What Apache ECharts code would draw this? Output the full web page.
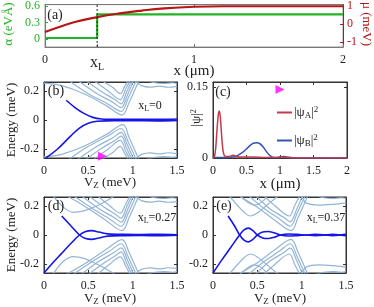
<!DOCTYPE html>
<html><head><meta charset="utf-8">
<script src="https://cdn.jsdelivr.net/npm/echarts@6/dist/echarts.min.js"></script>
<style>html,body{margin:0;padding:0;background:#fff}#c{width:374px;height:307px}</style>
</head><body><div id="c"></div>
<script>
// ---------------- DATA ----------------
// panel (a)
const xL = 0.35;
const alphaX = [0, 0.35, 0.35, 2];
const alphaY = [0.02, 0.02, 0.45, 0.45];
const muX = [0, 0.1, 0.2, 0.35, 0.5, 0.65, 0.8, 1.0, 1.2, 1.5, 2.0];
const muY = [-0.43, -0.14, 0.12, 0.39, 0.6, 0.76, 0.88, 0.97, 1.0, 1.0, 1.0];
const aXTicks = [0, 0.35, 1, 2];
const aAlphaTicks = [0, 0.3, 0.6];
const aMuTicks = [-1, 0, 1];
// panel (c)
const psiAX = [0, 0.02, 0.04, 0.06, 0.08, 0.095, 0.11, 0.13, 0.15, 0.17, 0.2, 0.23, 0.26, 0.28, 0.3, 0.32, 0.35, 0.4, 0.5, 0.6, 0.8, 0.95, 1.02, 1.1, 1.3, 1.5, 2.0];
const psiA  = [0, 0.002, 0.02, 0.06, 0.092, 0.099, 0.085, 0.045, 0.015, 0.005, 0.003, 0.003, 0.004, 0.005, 0.006, 0.005, 0.003, 0.002, 0.002, 0.002, 0.001, 0.001, 0.002, 0.001, 0, 0, 0];
const psiBX = [0, 0.1, 0.2, 0.3, 0.35, 0.4, 0.45, 0.5, 0.55, 0.6, 0.65, 0.7, 0.75, 0.8, 0.85, 0.9, 0.95, 1.0, 1.05, 1.1, 1.2, 1.4, 2.0];
const psiB  = [0.001, 0.001, 0.001, 0.002, 0.004, 0.008, 0.013, 0.019, 0.026, 0.031, 0.032, 0.03, 0.023, 0.013, 0.005, 0.001, 0.001, 0.002, 0.003, 0.002, 0.0005, 0, 0];
const cXTicks = [0, 0.5, 1, 1.5, 2];
const cYTicks = [0, 0.15];
const markerB = [[0.66, -0.248]];
const markerC = [[1.0, 0.144]];
// panels (b),(d),(e)
const vzTicks = [0, 0.5, 1, 1.5];
const eTicks = [-0.2, 0, 0.2];

const bulkB_up = [
  [[0,0.252],[0.2,0.235],[0.45,0.18],[0.7,0.1],[0.88,0.034],[0.96,0.12],[1.07,0.27]],
  [[0.28,0.27],[0.5,0.18],[0.72,0.11],[0.87,0.058],[0.95,0.15],[1.04,0.27]],
  [[0.38,0.27],[0.6,0.18],[0.78,0.12],[0.87,0.085],[0.94,0.17],[1.01,0.27]],
  [[0.47,0.27],[0.66,0.19],[0.8,0.14],[0.87,0.11],[0.93,0.19],[0.99,0.27]],
  [[0.56,0.27],[0.72,0.2],[0.86,0.14],[0.92,0.21],[0.97,0.27]],
  [[0.65,0.27],[0.78,0.22],[0.86,0.18],[0.91,0.23],[0.95,0.27]],
  [[1.02,0.27],[1.1,0.235],[1.2,0.225],[1.3,0.232],[1.4,0.224],[1.5,0.23]],
  [[1.15,0.27],[1.25,0.255],[1.35,0.25],[1.45,0.255],[1.5,0.25]]
];
const bulkB_dn = [
  [[0,-0.252],[0.2,-0.235],[0.45,-0.18],[0.7,-0.1],[0.89,-0.032],[0.96,-0.12],[1.07,-0.27]],
  [[0.28,-0.27],[0.5,-0.18],[0.72,-0.11],[0.87,-0.058],[0.95,-0.15],[1.04,-0.27]],
  [[0.38,-0.27],[0.6,-0.18],[0.78,-0.12],[0.87,-0.085],[0.94,-0.17],[1.01,-0.27]],
  [[0.47,-0.27],[0.66,-0.19],[0.8,-0.14],[0.87,-0.11],[0.93,-0.19],[0.99,-0.27]],
  [[0.56,-0.27],[0.72,-0.2],[0.86,-0.14],[0.92,-0.21],[0.97,-0.27]],
  [[0.65,-0.27],[0.78,-0.22],[0.86,-0.18],[0.91,-0.23],[0.95,-0.27]],
  [[1.02,-0.27],[1.1,-0.235],[1.2,-0.225],[1.3,-0.232],[1.4,-0.224],[1.5,-0.23]],
  [[1.15,-0.27],[1.25,-0.255],[1.35,-0.25],[1.45,-0.255],[1.5,-0.25]]
];
const mzmB = [
  [[0.25,0.135],[0.35,0.085],[0.45,0.045],[0.55,0.018],[0.65,0.007],[0.8,0.004],[1.0,0.004],[1.2,0.005],[1.35,0.004],[1.5,0.007]],
  [[0.02,-0.26],[0.15,-0.2],[0.3,-0.11],[0.4,-0.055],[0.5,-0.022],[0.6,-0.009],[0.8,-0.004],[1.0,-0.004],[1.3,-0.006],[1.5,-0.003]]
];

const bulkD_up = [
  [[0.1,0.27],[0.22,0.19],[0.33,0.155],[0.45,0.165],[0.6,0.2],[0.75,0.25],[0.8,0.27]],
  [[0.25,0.27],[0.45,0.2],[0.7,0.1],[0.88,0.03],[0.96,0.12],[1.07,0.27]],
  [[0.33,0.27],[0.55,0.18],[0.74,0.11],[0.87,0.06],[0.95,0.15],[1.04,0.27]],
  [[0.42,0.27],[0.62,0.18],[0.79,0.12],[0.87,0.088],[0.94,0.17],[1.01,0.27]],
  [[0.5,0.27],[0.68,0.19],[0.81,0.14],[0.87,0.115],[0.93,0.19],[0.99,0.27]],
  [[0.6,0.27],[0.74,0.2],[0.86,0.15],[0.92,0.21],[0.97,0.27]],
  [[1.02,0.27],[1.1,0.235],[1.2,0.225],[1.3,0.232],[1.4,0.224],[1.5,0.228]],
  [[1.15,0.27],[1.25,0.255],[1.35,0.25],[1.45,0.255],[1.5,0.25]]
];
const bulkD_dn = [
  [[0.1,-0.27],[0.22,-0.18],[0.33,-0.148],[0.45,-0.16],[0.6,-0.2],[0.75,-0.25],[0.8,-0.27]],
  [[0.25,-0.27],[0.45,-0.2],[0.7,-0.1],[0.88,-0.032],[0.96,-0.12],[1.07,-0.27]],
  [[0.33,-0.27],[0.55,-0.18],[0.74,-0.11],[0.87,-0.06],[0.95,-0.15],[1.04,-0.27]],
  [[0.42,-0.27],[0.62,-0.18],[0.79,-0.12],[0.87,-0.088],[0.94,-0.17],[1.01,-0.27]],
  [[0.5,-0.27],[0.68,-0.19],[0.81,-0.14],[0.87,-0.115],[0.93,-0.19],[0.99,-0.27]],
  [[0.6,-0.27],[0.74,-0.2],[0.86,-0.15],[0.92,-0.21],[0.97,-0.27]],
  [[1.02,-0.27],[1.1,-0.235],[1.2,-0.225],[1.3,-0.232],[1.4,-0.224],[1.5,-0.228]],
  [[1.15,-0.27],[1.25,-0.255],[1.35,-0.25],[1.45,-0.255],[1.5,-0.25]]
];
const mzmD = [
  [[0.2,0.13],[0.3,0.065],[0.4,0.0],[0.47,-0.024],[0.54,-0.03],[0.62,-0.02],[0.72,-0.008],[0.9,-0.004],[1.1,-0.003],[1.3,-0.005],[1.5,-0.002]],
  [[0.0,-0.26],[0.1,-0.19],[0.2,-0.125],[0.3,-0.06],[0.4,0.0],[0.47,0.024],[0.54,0.03],[0.62,0.02],[0.72,0.008],[0.9,0.004],[1.1,0.003],[1.3,0.005],[1.5,0.002]]
];

const bulkE_up = [
  [[0.18,0.27],[0.28,0.2],[0.36,0.15],[0.42,0.13],[0.5,0.15],[0.6,0.2],[0.7,0.25],[0.74,0.27]],
  [[0.3,0.27],[0.4,0.22],[0.47,0.205],[0.55,0.225],[0.62,0.27]],
  [[0.3,0.265],[0.5,0.19],[0.7,0.1],[0.88,0.03],[0.96,0.12],[1.07,0.27]],
  [[0.4,0.27],[0.58,0.18],[0.75,0.11],[0.87,0.06],[0.95,0.15],[1.04,0.27]],
  [[0.48,0.27],[0.64,0.18],[0.8,0.12],[0.87,0.09],[0.94,0.17],[1.01,0.27]],
  [[0.57,0.27],[0.7,0.2],[0.86,0.13],[0.92,0.2],[0.98,0.27]],
  [[1.0,0.27],[1.05,0.22],[1.2,0.205],[1.35,0.21],[1.5,0.22]],
  [[1.15,0.27],[1.25,0.255],[1.35,0.25],[1.45,0.255],[1.5,0.25]]
];
const bulkE_dn = [
  [[0.18,-0.27],[0.28,-0.2],[0.36,-0.15],[0.42,-0.13],[0.5,-0.15],[0.6,-0.2],[0.7,-0.25],[0.74,-0.27]],
  [[0.3,-0.27],[0.4,-0.22],[0.47,-0.205],[0.55,-0.225],[0.62,-0.27]],
  [[0.3,-0.265],[0.5,-0.19],[0.7,-0.1],[0.88,-0.03],[0.96,-0.12],[1.07,-0.27]],
  [[0.4,-0.27],[0.58,-0.18],[0.75,-0.11],[0.87,-0.06],[0.95,-0.15],[1.04,-0.27]],
  [[0.48,-0.27],[0.64,-0.18],[0.8,-0.12],[0.87,-0.09],[0.94,-0.17],[1.01,-0.27]],
  [[0.57,-0.27],[0.7,-0.2],[0.86,-0.13],[0.92,-0.2],[0.98,-0.27]],
  [[1.0,-0.27],[1.05,-0.22],[1.2,-0.205],[1.35,-0.21],[1.5,-0.22]],
  [[1.15,-0.27],[1.25,-0.255],[1.35,-0.25],[1.45,-0.255],[1.5,-0.25]]
];
const mzmE = [
  [[0.17,0.13],[0.24,0.065],[0.3,0.0],[0.35,-0.035],[0.4,-0.047],[0.45,-0.03],[0.5,0.0],[0.56,0.02],[0.62,0.024],[0.69,0.015],[0.76,0.0],[0.85,-0.007],[0.95,-0.004],[1.05,0.0],[1.15,0.005],[1.25,0.002],[1.35,-0.004],[1.45,0.002],[1.5,0.004]],
  [[0.0,-0.26],[0.1,-0.17],[0.2,-0.085],[0.3,0.0],[0.35,0.035],[0.4,0.047],[0.45,0.03],[0.5,0.0],[0.56,-0.02],[0.62,-0.024],[0.69,-0.015],[0.76,0.0],[0.85,0.007],[0.95,0.004],[1.05,0.0],[1.15,-0.005],[1.25,-0.002],[1.35,0.004],[1.45,-0.002],[1.5,-0.004]]
];

// ---------------- STYLE / LAYOUT ----------------
const FONT = 'Liberation Serif';
const BULK = '#94b5d5';
const MZM = '#1515e8';
const GREEN = '#22b422';
const RED = '#b51616';
const zip = (xs, ys) => xs.map((x, i) => [x, ys[i]]);

const grids = [
  {left: 45, top: 4, width: 298, height: 43, show: true, borderColor: '#999', borderWidth: 1},
  {left: 44, top: 82, width: 133, height: 76, show: true, borderColor: '#333', borderWidth: 1},
  {left: 213, top: 82, width: 134, height: 76, show: true, borderColor: '#333', borderWidth: 1},
  {left: 44, top: 197, width: 133, height: 76, show: true, borderColor: '#333', borderWidth: 1},
  {left: 213, top: 197, width: 133, height: 76, show: true, borderColor: '#333', borderWidth: 1}
];

function ax(grid, pos, min, max, vals, showLabel, opts) {
  opts = opts || {};
  const col = opts.color || '#333';
  return {
    type: 'value', gridIndex: grid, position: pos, min, max,
    splitLine: {show: false},
    axisLine: {show: true, onZero: false, lineStyle: {color: opts.lineColor || col, width: 1}},
    axisTick: {show: true, inside: true, length: 3, customValues: vals, lineStyle: {color: col}},
    axisLabel: {show: showLabel, customValues: vals, margin: opts.margin || 5,
      formatter: opts.fmt || (v => String(v)),
      fontFamily: FONT, fontSize: 12, color: opts.labelColor || '#222', rich: opts.rich}
  };
}

const xAxes = [
  ax(0, 'bottom', 0, 2, aXTicks, true, {color: '#777', margin: 7,
     fmt: v => v === xL ? '{x|x}{s|L}' : String(v),
     rich: {x: {fontFamily: FONT, fontSize: 16, color: '#222'}, s: {fontFamily: FONT, fontSize: 10, color: '#222', padding: [8, 0, 0, 0], verticalAlign: 'bottom'}}}),
  ax(0, 'top', 0, 2, [1], false, {color: '#777'}),
  ax(1, 'bottom', 0, 1.5, vzTicks, true, {margin: 7}),
  ax(1, 'top', 0, 1.5, [0.5, 1], false),
  ax(2, 'bottom', 0, 2, cXTicks, true, {margin: 7}),
  ax(2, 'top', 0, 2, [0.5, 1, 1.5], false),
  ax(3, 'bottom', 0, 1.5, vzTicks, true, {margin: 7}),
  ax(3, 'top', 0, 1.5, [0.5, 1], false),
  ax(4, 'bottom', 0, 1.5, vzTicks, true, {margin: 7}),
  ax(4, 'top', 0, 1.5, [0.5, 1], false)
];
const yAxes = [
  ax(0, 'left', -0.143, 0.625, aAlphaTicks, true, {color: GREEN, labelColor: GREEN}),
  ax(0, 'right', -1.27, 1.09, aMuTicks, true, {color: RED, labelColor: RED, margin: 4}),
  ax(1, 'left', -0.26, 0.26, eTicks, true),
  ax(1, 'right', -0.26, 0.26, eTicks, false),
  ax(2, 'left', 0, 0.16, cYTicks, true),
  ax(2, 'right', 0, 0.16, cYTicks, false),
  ax(3, 'left', -0.26, 0.26, eTicks, true),
  ax(3, 'right', -0.26, 0.26, eTicks, false),
  ax(4, 'left', -0.26, 0.26, eTicks, true),
  ax(4, 'right', -0.26, 0.26, eTicks, false)
];

function lines(list, xi, yi, color, width, z) {
  return list.map(pts => ({type: 'line', xAxisIndex: xi, yAxisIndex: yi, data: pts, smooth: 0.35,
    showSymbol: false, silent: true, clip: true, z: z, lineStyle: {color: color, width: width}}));
}

const series = [
  {type: 'line', name: 'alpha', xAxisIndex: 0, yAxisIndex: 0, data: zip(alphaX, alphaY), showSymbol: false,
   lineStyle: {color: GREEN, width: 2.2}, z: 3},
  {type: 'line', name: 'mu', xAxisIndex: 0, yAxisIndex: 1, data: zip(muX, muY), smooth: true, showSymbol: false,
   lineStyle: {color: RED, width: 2.2}, z: 4},
  {type: 'line', xAxisIndex: 0, yAxisIndex: 0, data: [[xL, -0.143], [xL, 0.625]], showSymbol: false,
   lineStyle: {color: '#222', width: 1, type: [2, 2]}, z: 5},
  ...lines(bulkB_up, 2, 2, BULK, 1.2, 2), ...lines(bulkB_dn, 2, 2, BULK, 1.2, 2),
  ...lines(mzmB, 2, 2, MZM, 1.6, 3),
  ...lines(bulkD_up, 6, 6, BULK, 1.2, 2), ...lines(bulkD_dn, 6, 6, BULK, 1.2, 2),
  ...lines(mzmD, 6, 6, MZM, 1.6, 3),
  ...lines(bulkE_up, 8, 8, BULK, 1.2, 2), ...lines(bulkE_dn, 8, 8, BULK, 1.2, 2),
  ...lines(mzmE, 8, 8, MZM, 1.6, 3),
  {type: 'line', name: 'psiA', xAxisIndex: 4, yAxisIndex: 4, data: zip(psiAX, psiA), smooth: 0.3, showSymbol: false,
   lineStyle: {color: '#c43a4c', width: 1.5}, itemStyle: {color: '#c43a4c'}, z: 4},
  {type: 'line', name: 'psiB', xAxisIndex: 4, yAxisIndex: 4, data: zip(psiBX, psiB), smooth: 0.3, showSymbol: false,
   lineStyle: {color: '#3555b5', width: 1.5}, itemStyle: {color: '#3555b5'}, z: 3},
  {type: 'scatter', xAxisIndex: 2, yAxisIndex: 2, data: markerB, symbol: 'triangle', symbolRotate: -90, symbolSize: 9,
   itemStyle: {color: '#ff00ff'}, clip: false, z: 6},
  {type: 'scatter', xAxisIndex: 4, yAxisIndex: 4, data: markerC, symbol: 'triangle', symbolRotate: -90, symbolSize: 9,
   itemStyle: {color: '#ff00ff'}, clip: false, z: 6}
];

const T = (x, y, text, size, color, rot, rich, extra) => Object.assign({
  type: 'text', x: x, y: y, rotation: rot || 0, z: 100,
  style: {text: text, fontFamily: FONT, fontSize: size, fill: color || '#222', align: 'center', verticalAlign: 'middle', rich: rich}
}, extra || {});
const sub = s => ({fontFamily: FONT, fontSize: s, fill: '#222', padding: [6, 0, 0, 0], verticalAlign: 'bottom'});
const sup = s => ({fontFamily: FONT, fontSize: s, fill: '#222', padding: [0, 0, 6, 0], verticalAlign: 'top'});
const main = (s, c) => ({fontFamily: FONT, fontSize: s, fill: c || '#222'});

const graphic = [
  T(9, 24, '{g|α (eVÅ)}', 13, GREEN, Math.PI / 2, {g: main(13, GREEN)}),
  T(366, 24, '{r|μ (meV)}', 13, RED, -Math.PI / 2, {r: main(13, RED)}),
  T(194, 71, '{m|x (μm)}', 15, '#222', 0, {m: main(15)}),
  T(55, 15, '(a)', 14),
  T(56, 91, '(b)', 14),
  T(223, 92, '(c)', 14),
  T(56, 206, '(d)', 14),
  T(224, 206, '(e)', 14),
  T(12, 120, 'Energy (meV)', 13, '#222', Math.PI / 2),
  T(12, 235, 'Energy (meV)', 13, '#222', Math.PI / 2),
  T(197, 118, '{m||ψ|}{p|2}', 13, '#222', Math.PI / 2, {m: main(13), p: sup(8)}),
  T(110, 183, '{m|V}{s|Z}{m| (meV)}', 13, '#222', 0, {m: main(13), s: sub(9)}),
  T(110, 299, '{m|V}{s|Z}{m| (meV)}', 13, '#222', 0, {m: main(13), s: sub(9)}),
  T(280, 299, '{m|V}{s|Z}{m| (meV)}', 13, '#222', 0, {m: main(13), s: sub(9)}),
  T(280, 184, '{m|x (μm)}', 15, '#222', 0, {m: main(15)}),
  T(150, 106, '{m|x}{s|L}{m|=0}', 12, '#222', 0, {m: main(12), s: sub(8)}),
  T(157, 218, '{m|x}{s|L}{m|=0.27}', 12, '#222', 0, {m: main(12), s: sub(8)}),
  T(326, 218, '{m|x}{s|L}{m|=0.37}', 12, '#222', 0, {m: main(12), s: sub(8)})
];

const chart = echarts.init(document.getElementById('c'), null, {renderer: 'canvas'});
chart.setOption({
  animation: false,
  backgroundColor: '#fff',
  grid: grids,
  xAxis: xAxes,
  yAxis: yAxes,
  series: series,
  legend: {data: ['psiA', 'psiB'], left: 272, top: 100, orient: 'vertical', itemWidth: 15, itemHeight: 2, itemGap: 13,
    icon: 'rect', selectedMode: false,
    formatter: n => n === 'psiA' ? '{m||ψ}{s|A}{m||}{p|2}' : '{m||ψ}{s|B}{m||}{p|2}',
    textStyle: {fontFamily: FONT, fontSize: 13, color: '#222', padding: [0,0,0,-3],
      rich: {m: {fontFamily: FONT, fontSize: 13, color: '#222'},
             s: {fontFamily: FONT, fontSize: 9, color: '#222', padding: [6, 0, 0, 0], verticalAlign: 'bottom'},
             p: {fontFamily: FONT, fontSize: 9, color: '#222', padding: [0, 0, 6, 0], verticalAlign: 'top'}}}},
  graphic: graphic
});
</script></body></html>
